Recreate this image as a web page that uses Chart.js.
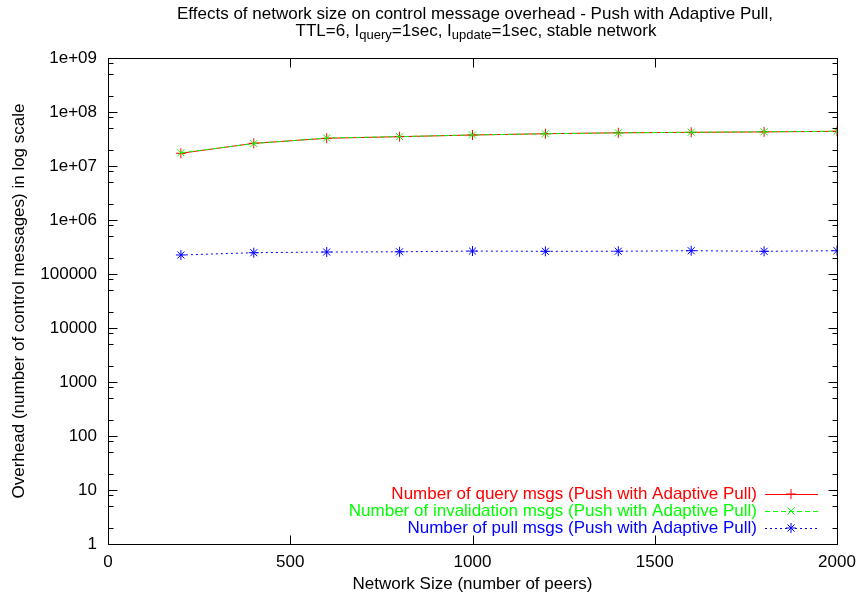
<!DOCTYPE html>
<html>
<head>
<meta charset="utf-8">
<title>Network size vs control message overhead</title>
<script src="https://cdn.jsdelivr.net/npm/chart.js@4.4.0/dist/chart.umd.min.js"></script>
<style>
    body { margin: 0; background: #fff; }
    #wrap { width: 859px; height: 599px; position: relative; }
</style>
</head>
<body>
<div id="wrap"><canvas id="chart"></canvas></div>
<script>
// data
const netSizes = [200, 400, 600, 800, 1000, 1200, 1400, 1600, 1800, 2000];
const queryMsgs = [1.72e7, 2.63e7, 3.26e7, 3.49e7, 3.75e7, 3.96e7, 4.12e7, 4.2e7, 4.28e7, 4.39e7];
const invalMsgs = [1.76e7, 2.6e7, 3.3e7, 3.5e7, 3.76e7, 3.95e7, 4.1e7, 4.22e7, 4.3e7, 4.4e7];
const pullMsgs = [2.25e5, 2.48e5, 2.55e5, 2.58e5, 2.66e5, 2.63e5, 2.64e5, 2.7e5, 2.63e5, 2.7e5];

const seriesNames = [
    'Number of query msgs (Push with Adaptive Pull)',
    'Number of invalidation msgs (Push with Adaptive Pull)',
    'Number of pull msgs (Push with Adaptive Pull)'
];
const xTicks = [0, 500, 1000, 1500, 2000];
const yTicks = [1, 10, 100, 1000, 10000, 100000, 1e6, 1e7, 1e8, 1e9];
const yMinor = [2, 5, 8];

const FONT = 'Liberation Sans, Arial, Helvetica, sans-serif';
const FSIZE = 17;

function toPoints(vals) {
    return netSizes.map((n, i) => ({x: n, y: vals[i]}));
}

function yLabel(v) {
    const e = Math.round(Math.log10(v));
    if (e >= 6) return '1e+' + String(e).padStart(2, '0');
    return String(v);
}

// border, inward ticks, title and legend in gnuplot style
const gnuplotPlugin = {
    id: 'gnuplotLook',
    afterDraw(chart) {
        const ctx = chart.ctx;
        const a = chart.chartArea;
        const xs = chart.scales.x;
        const ys = chart.scales.y;
        const L = Math.round(a.left) + 0.5, R = Math.round(a.right) + 0.5;
        const T = Math.round(a.top) + 0.5, B = Math.round(a.bottom) + 0.5;
        ctx.save();
        ctx.strokeStyle = '#000';
        ctx.lineWidth = 1;
        ctx.beginPath();
        ctx.rect(L, T, R - L, B - T);
        // x major ticks
        xTicks.forEach(v => {
            const px = Math.round(xs.getPixelForValue(v)) + 0.5;
            ctx.moveTo(px, B); ctx.lineTo(px, B - 9);
            ctx.moveTo(px, T); ctx.lineTo(px, T + 9);
        });
        // y ticks (log)
        yTicks.forEach((v, i) => {
            const py = Math.round(ys.getPixelForValue(v)) + 0.5;
            ctx.moveTo(L, py); ctx.lineTo(L + 9, py);
            ctx.moveTo(R, py); ctx.lineTo(R - 9, py);
            if (i < yTicks.length - 1) {
                yMinor.forEach(m => {
                    const pm = Math.round(ys.getPixelForValue(v * m)) + 0.5;
                    ctx.moveTo(L, pm); ctx.lineTo(L + 5, pm);
                    ctx.moveTo(R, pm); ctx.lineTo(R - 5, pm);
                });
            }
        });
        ctx.stroke();

        // title, second line has subscripts
        ctx.fillStyle = '#000';
        ctx.textBaseline = 'middle';
        ctx.font = FSIZE + 'px ' + FONT;
        ctx.textAlign = 'center';
        ctx.fillText('Effects of network size on control message overhead - Push with Adaptive Pull,', 475, 14);
        const parts = [
            ['TTL=6, I', false], ['query', true], ['=1sec, I', false], ['update', true], ['=1sec, stable network', false]
        ];
        const big = FSIZE + 'px ' + FONT, small = '13px ' + FONT;
        let w = 0;
        parts.forEach(p => { ctx.font = p[1] ? small : big; w += ctx.measureText(p[0]).width; });
        let cx = 476 - w / 2;
        ctx.textAlign = 'left';
        parts.forEach(p => {
            ctx.font = p[1] ? small : big;
            ctx.fillText(p[0], cx, p[1] ? 35 : 31);
            cx += ctx.measureText(p[0]).width;
        });

        // legend, bottom right inside the plot
        const rowY = [494, 511, 528];
        ctx.font = FSIZE + 'px ' + FONT;
        ctx.textAlign = 'right';
        chart.data.datasets.forEach((ds, i) => {
            const yy = rowY[i];
            ctx.fillStyle = ds.borderColor;
            ctx.fillText(ds.label, 757, yy);
            ctx.strokeStyle = ds.borderColor;
            ctx.lineWidth = 1;
            ctx.setLineDash(ds.borderDash || []);
            ctx.beginPath();
            ctx.moveTo(765, yy + 0.5);
            ctx.lineTo(818, yy + 0.5);
            ctx.stroke();
            ctx.setLineDash([]);
            Chart.helpers.drawPoint(ctx, {pointStyle: ds.pointStyle, radius: ds.pointRadius, rotation: 0, borderWidth: 1}, 791, yy);
        });
        ctx.restore();
    }
};

const ctx = document.getElementById('chart');
new Chart(ctx, {
    type: 'line',
    data: {
        datasets: [
            {
                label: seriesNames[0],
                data: toPoints(queryMsgs),
                borderColor: '#ff0000',
                backgroundColor: '#ff0000',
                borderWidth: 1,
                pointStyle: 'cross',
                pointRadius: 5,
                pointBorderWidth: 1,
                order: 2
            },
            {
                label: seriesNames[1],
                data: toPoints(invalMsgs),
                borderColor: '#00ff00',
                backgroundColor: '#00ff00',
                borderWidth: 1,
                borderDash: [5, 3],
                pointStyle: 'crossRot',
                pointRadius: 5,
                pointBorderWidth: 1,
                order: 1
            },
            {
                label: seriesNames[2],
                data: toPoints(pullMsgs),
                borderColor: '#0000ff',
                backgroundColor: '#0000ff',
                borderWidth: 1,
                borderDash: [2, 3],
                pointStyle: 'star',
                pointRadius: 5,
                pointBorderWidth: 1,
                order: 0
            }
        ]
    },
    options: {
        responsive: true,
        maintainAspectRatio: false,
        animation: false,
        layout: {padding: {top: 58, right: 22, left: 0, bottom: 0}},
        plugins: {
            legend: {display: false},
            title: {display: false},
            tooltip: {enabled: false}
        },
        scales: {
            x: {
                type: 'linear',
                min: 0,
                max: 2000,
                afterBuildTicks: s => { s.ticks = xTicks.map(v => ({value: v})); },
                afterFit: s => {
                    s.height = 55;
                    // let the layout padding decide the right edge
                    s.paddingLeft = 0;
                    s.paddingRight = 0;
                },
                grid: {display: false, drawTicks: false},
                border: {display: false},
                ticks: {color: '#000', padding: 8, maxRotation: 0, font: {family: FONT, size: FSIZE}, callback: v => String(v)},
                title: {
                    display: true,
                    text: 'Network Size (number of peers)',
                    color: '#000',
                    font: {family: FONT, size: FSIZE},
                    padding: {top: 0, bottom: 4}
                }
            },
            y: {
                type: 'logarithmic',
                min: 1,
                max: 1e9,
                afterBuildTicks: s => { s.ticks = yTicks.map(v => ({value: v})); },
                afterFit: s => { s.width = 108; },
                grid: {display: false, drawTicks: false},
                border: {display: false},
                ticks: {color: '#000', padding: 11, font: {family: FONT, size: FSIZE}, callback: v => yLabel(v)},
                title: {
                    display: true,
                    text: 'Overhead (number of control messages) in log scale',
                    color: '#000',
                    font: {family: FONT, size: FSIZE},
                    padding: {top: 9, bottom: 0}
                }
            }
        }
    },
    plugins: [gnuplotPlugin]
});
</script>
</body>
</html>
